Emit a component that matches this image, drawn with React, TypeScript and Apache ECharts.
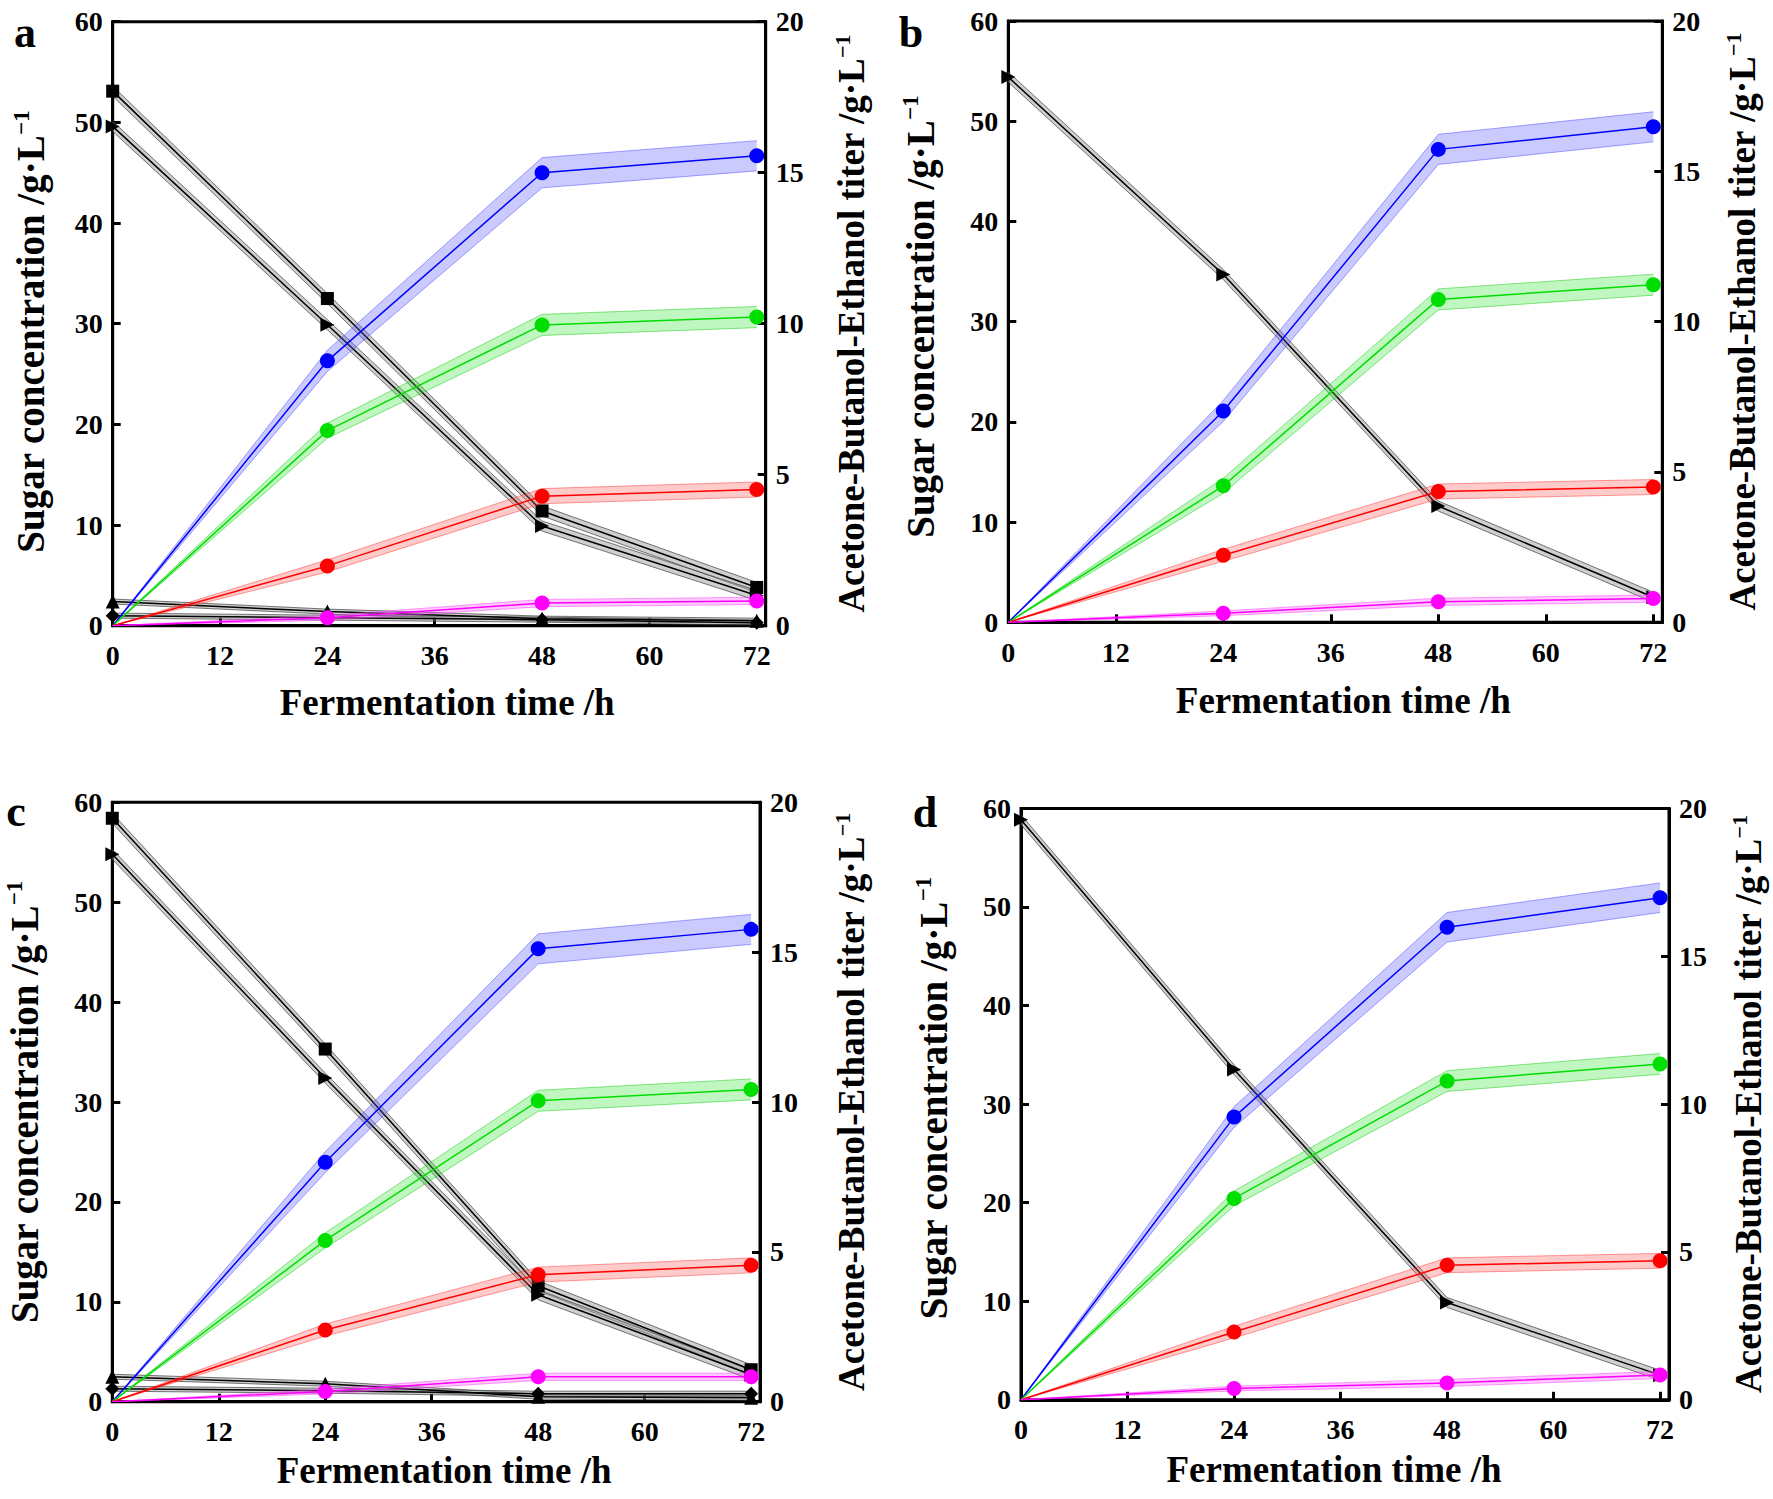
import React, { useEffect, useRef } from "react";
import * as echarts from "echarts";

// ---------- data ----------
const hours = [0, 24, 48, 72];
const xTickLabels = ["0", "12", "24", "36", "48", "60", "72"];

// panel a
const aBlue = [0, 8.77, 15.0, 15.56];
const aGreen = [0, 6.46, 9.96, 10.22];
const aRed = [0, 1.98, 4.29, 4.51];
const aMagenta = [0, 0.26, 0.75, 0.82];
const aSquare = [53.1, 32.5, 11.4, 3.8];
const aTriRight = [49.6, 29.9, 9.9, 3.0];
const aTriUp = [2.4, 1.4, 0.7, 0.5];
const aDiamond = [1.0, 0.8, 0.6, 0.3];

// panel b
const bBlue = [0, 7.03, 15.73, 16.48];
const bGreen = [0, 4.54, 10.74, 11.23];
const bRed = [0, 2.23, 4.35, 4.5];
const bMagenta = [0, 0.3, 0.68, 0.79];
const bTriRight = [54.4, 34.7, 11.6, 2.5];

// panel c
const cBlue = [0, 7.99, 15.11, 15.76];
const cGreen = [0, 5.38, 10.04, 10.42];
const cRed = [0, 2.39, 4.24, 4.55];
const cMagenta = [0, 0.34, 0.83, 0.83];
const cSquare = [58.4, 35.3, 11.6, 3.2];
const cTriRight = [54.8, 32.4, 10.7, 2.7];
const cTriUp = [2.5, 1.8, 0.5, 0.4];
const cDiamond = [1.3, 1.1, 0.8, 0.8];

// panel d
const dBlue = [0, 9.56, 15.98, 16.98];
const dGreen = [0, 6.81, 10.78, 11.36];
const dRed = [0, 2.29, 4.55, 4.7];
const dMagenta = [0, 0.38, 0.57, 0.84];
const dTriRight = [58.85, 33.5, 9.87, 2.5];

// error half-widths (shaded bands)
const blueErr = [0, 0.35, 0.5, 0.5];
const greenErr = [0, 0.25, 0.35, 0.35];
const redErr = [0, 0.2, 0.25, 0.25];
const magentaErr = [0, 0.08, 0.12, 0.12];
const sugarErr = [0.5, 0.5, 0.5, 0.5];
const smallSugarErr = [0.25, 0.25, 0.25, 0.25];

// ---------- styling ----------
const FONT = "'Liberation Serif', 'Times New Roman', serif";
const TICK_FS = 28;
const TITLE_FS = 37;
const LEFT_TITLE_FS = 39;

const COLORS = {
  blue: { line: "#0000ff", edge: "rgba(60,60,255,0.45)", fill: "rgba(90,90,255,0.32)" },
  green: { line: "#00dd00", edge: "rgba(0,200,0,0.45)", fill: "rgba(60,230,60,0.32)" },
  red: { line: "#ff0000", edge: "rgba(255,40,40,0.45)", fill: "rgba(255,90,90,0.32)" },
  magenta: { line: "#ff00ff", edge: "rgba(255,40,255,0.45)", fill: "rgba(255,90,255,0.32)" },
  black: { line: "#000000", edge: "rgba(50,50,50,0.65)", fill: "rgba(160,160,160,0.5)" },
};

type Sugar = { values: number[]; err: number[]; symbol: string; rotate: number; size: number };
type Panel = {
  letter: string;
  letterPos: [number, number];
  grid: { left: number; top: number; width: number; height: number };
  gapLeft: number;
  gapRight: number;
  gapBottom: number;
  padBottom: number[];
  padLeft: number[];
  abe: { values: number[]; err: number[]; color: keyof typeof COLORS }[];
  sugars: Sugar[];
};

const sq = (v: number[]): Sugar => ({ values: v, err: sugarErr, symbol: "rect", rotate: 0, size: 13 });
const tr = (v: number[]): Sugar => ({ values: v, err: sugarErr, symbol: "triangle", rotate: -90, size: 14 });
const tu = (v: number[]): Sugar => ({ values: v, err: smallSugarErr, symbol: "triangle", rotate: 0, size: 14 });
const di = (v: number[]): Sugar => ({ values: v, err: smallSugarErr, symbol: "diamond", rotate: 0, size: 14 });

const panels: Panel[] = [
  {
    letter: "a",
    letterPos: [25, 32],
    grid: { left: 112.7, top: 21.7, width: 653, height: 604 },
    gapLeft: 61, gapRight: 66, gapBottom: 58,
    padBottom: [0, 0, 0, 16], padLeft: [0, 16, 0, 0],
    abe: [
      { values: aBlue, err: blueErr, color: "blue" },
      { values: aGreen, err: greenErr, color: "green" },
      { values: aRed, err: redErr, color: "red" },
      { values: aMagenta, err: magentaErr, color: "magenta" },
    ],
    sugars: [sq(aSquare), tr(aTriRight), tu(aTriUp), di(aDiamond)],
  },
  {
    letter: "b",
    letterPos: [911, 32],
    grid: { left: 1008.3, top: 21, width: 654, height: 601.3 },
    gapLeft: 67, gapRight: 60, gapBottom: 60,
    padBottom: [0, 0, 0, 16], padLeft: [0, 0, 0, 10],
    abe: [
      { values: bBlue, err: blueErr, color: "blue" },
      { values: bGreen, err: greenErr, color: "green" },
      { values: bRed, err: redErr, color: "red" },
      { values: bMagenta, err: magentaErr, color: "magenta" },
    ],
    sugars: [tr(bTriRight)],
  },
  {
    letter: "c",
    letterPos: [16, 811],
    grid: { left: 112.3, top: 802.3, width: 647.7, height: 599.4 },
    gapLeft: 67, gapRight: 71, gapBottom: 50,
    padBottom: [0, 0, 0, 16], padLeft: [0, 0, 0, 0],
    abe: [
      { values: cBlue, err: blueErr, color: "blue" },
      { values: cGreen, err: greenErr, color: "green" },
      { values: cRed, err: redErr, color: "red" },
      { values: cMagenta, err: magentaErr, color: "magenta" },
    ],
    sugars: [sq(cSquare), tr(cTriRight), tu(cTriUp), di(cDiamond)],
  },
  {
    letter: "d",
    letterPos: [925, 812],
    grid: { left: 1021, top: 808.4, width: 648, height: 591.4 },
    gapLeft: 67, gapRight: 59, gapBottom: 51,
    padBottom: [0, 22, 0, 0], padLeft: [0, 0, 0, 12],
    abe: [
      { values: dBlue, err: blueErr, color: "blue" },
      { values: dGreen, err: greenErr, color: "green" },
      { values: dRed, err: redErr, color: "red" },
      { values: dMagenta, err: magentaErr, color: "magenta" },
    ],
    sugars: [tr(dTriRight)],
  },
];

// shaded band drawn as one polygon through the axes' own scales
function bandSeries(xi: number, yi: number, values: number[], err: number[], c: { edge: string; fill: string }, z: number) {
  const data = hours.map((h, i) => [h, values[i] - err[i], values[i] + err[i]]);
  return {
    type: "custom",
    xAxisIndex: xi,
    yAxisIndex: yi,
    z,
    silent: true,
    clip: true,
    encode: { x: 0, y: [1, 2] },
    data,
    renderItem: (params: any, api: any) => {
      if (params.dataIndex !== 0) return null;
      const upper = data.map((d) => api.coord([d[0], d[2]]));
      const lower = data.map((d) => api.coord([d[0], d[1]]));
      const poly = upper.concat(lower.slice().reverse());
      return {
        type: "group",
        children: [
          { type: "polygon", shape: { points: poly }, style: { fill: c.fill, stroke: "none" } },
          { type: "polyline", shape: { points: upper }, style: { fill: "none", stroke: c.edge, lineWidth: 1 } },
          { type: "polyline", shape: { points: lower }, style: { fill: "none", stroke: c.edge, lineWidth: 1 } },
        ],
      };
    },
  };
}

const axisCommon = {
  axisLine: { show: true, lineStyle: { color: "#000", width: 3 } },
  axisTick: { show: true, inside: true, length: 8, lineStyle: { color: "#000", width: 3 } },
  splitLine: { show: false },
  axisLabel: { color: "#000", fontFamily: FONT, fontWeight: "bold" as const, fontSize: TICK_FS, margin: 10 },
  nameLocation: "middle" as const,
};

function titleStyle(fs: number, padding: number[]) {
  return {
    color: "#000", fontFamily: FONT, fontWeight: "bold" as const, fontSize: fs, padding,
    rich: {
      m: { color: "#000", fontFamily: FONT, fontWeight: "bold", fontSize: fs },
      sup: { color: "#000", fontFamily: FONT, fontWeight: "bold", fontSize: Math.round(fs * 0.6), padding: [0, 0, Math.round(fs * 0.48), 0] },
    },
  };
}

function buildOption() {
  const grid: any[] = [];
  const xAxis: any[] = [];
  const yAxis: any[] = [];
  const series: any[] = [];
  const graphic: any[] = [];

  panels.forEach((p, k) => {
    grid.push({ ...p.grid, show: true, borderColor: "#000", borderWidth: 3, backgroundColor: "transparent" });
    xAxis.push({
      ...axisCommon,
      type: "value", gridIndex: k, min: 0, max: 73, interval: 12,
      axisLabel: { ...axisCommon.axisLabel, margin: 16, showMaxLabel: false,
        formatter: (v: number) => (xTickLabels.includes(String(v)) ? String(v) : "") },
      name: "Fermentation time /h", nameGap: p.gapBottom,
      nameTextStyle: titleStyle(TITLE_FS, p.padBottom),
    });
    yAxis.push({
      ...axisCommon,
      type: "value", gridIndex: k, position: "left", min: 0, max: 60, interval: 10,
      name: "{m|Sugar concentration /g·L}{sup|−1}", nameGap: p.gapLeft,
      nameTextStyle: titleStyle(LEFT_TITLE_FS, p.padLeft),
    });
    yAxis.push({
      ...axisCommon,
      type: "value", gridIndex: k, position: "right", min: 0, max: 20, interval: 5,
      name: "{m|Acetone-Butanol-Ethanol titer /g·L}{sup|−1}", nameGap: p.gapRight,
      nameTextStyle: titleStyle(TITLE_FS, [0, 0, 0, 0]),
    });
    const yl = 2 * k;
    const yr = 2 * k + 1;

    p.sugars.forEach((s) => {
      series.push(bandSeries(k, yl, s.values, s.err, COLORS.black, 3));
      series.push({
        type: "line", xAxisIndex: k, yAxisIndex: yl,
        data: hours.map((h, i) => [h, s.values[i]]),
        symbol: s.symbol, symbolSize: s.size, symbolRotate: s.rotate, showAllSymbol: true,
        itemStyle: { color: "#000" }, lineStyle: { color: "#000", width: 1.5 }, z: 4,
      });
    });
    p.abe.forEach((a) => {
      const c = COLORS[a.color];
      series.push(bandSeries(k, yr, a.values, a.err, c, 5));
      series.push({
        type: "line", xAxisIndex: k, yAxisIndex: yr,
        data: hours.map((h, i) => (i === 0 ? { value: [h, a.values[i]], symbol: "none" } : [h, a.values[i]])),
        symbol: "circle", symbolSize: 15, showAllSymbol: true,
        itemStyle: { color: c.line }, lineStyle: { color: c.line, width: 1.5 }, z: 6,
      });
    });

    graphic.push({
      type: "text", x: p.letterPos[0], y: p.letterPos[1],
      style: { text: p.letter, fontFamily: FONT, fontWeight: "bold", fontSize: 44, fill: "#000",
        textAlign: "center", textVerticalAlign: "middle" },
    });
  });

  return { animation: false, backgroundColor: "#fff", grid, xAxis, yAxis, series, graphic };
}

export default function App() {
  const ref = useRef<HTMLDivElement>(null);
  useEffect(() => {
    if (!ref.current) return;
    const chart = echarts.init(ref.current, undefined, { renderer: "svg" });
    chart.setOption(buildOption() as any);
    return () => chart.dispose();
  }, []);
  return (
    <div
      ref={ref}
      style={{ position: "absolute", left: 0, top: 0, width: 1773, height: 1499, background: "#fff" }}
    />
  );
}
